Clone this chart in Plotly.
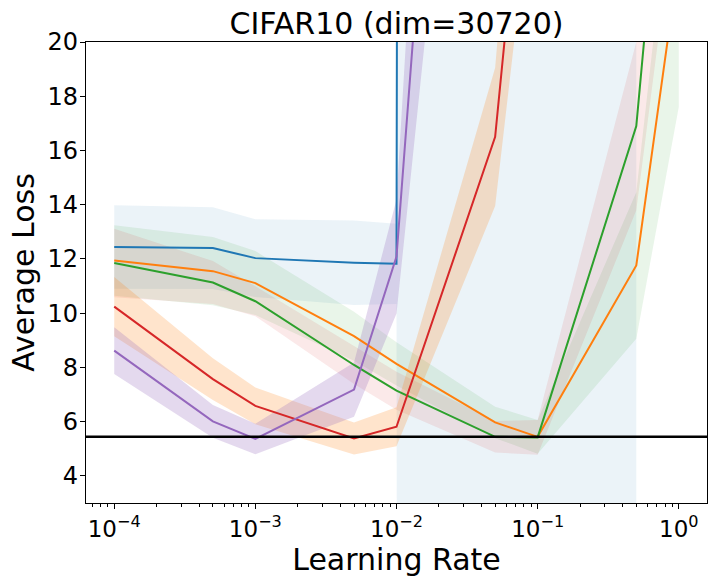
import plotly.graph_objects as go

# learning rates (x)
lr = [1e-4, 5e-4, 1e-3, 5e-3, 1e-2, 5e-2, 1e-1, 5e-1, 1.0]

# mean average loss per series (diverged runs are very large)
blue_mean = [12.44, 12.40, 12.03, 11.86, 11.82, 3200.0, 4100.0, 5000.0, None]
blue_std = [1.54, 1.51, 1.43, 1.56, 1.48, 6000.0, 8000.0, 9000.0, None]

orange_mean = [11.94, 11.55, 11.11, 9.15, 8.13, 5.97, 5.44, 11.76, 23.0]
orange_std = [1.30, 1.26, 1.18, 0.90, 0.80, 0.58, 0.62, 2.70, 5.40]

green_mean = [11.85, 11.13, 10.44, 8.09, 7.14, 5.44, 5.42, 16.9, 34.0]
green_std = [1.26, 0.79, 0.55, 0.70, 0.70, 0.58, 0.64, 3.10, 8.0]

red_mean = [10.24, 7.57, 6.58, 5.38, 5.81, 16.5, 32.5, 80.0, 150.0]
red_std = [1.09, 0.77, 0.68, 0.59, 0.72, 2.55, 5.0, 12.0, 25.0]

purple_mean = [8.62, 6.01, 5.36, 7.18, 12.09, 60.0, 120.0, 200.0, 300.0]
purple_std = [0.86, 0.60, 0.56, 1.00, 2.10, 15.0, 25.0, 40.0, 60.0]

baseline = 5.44

x_tick_vals = [1e-4, 1e-3, 1e-2, 1e-1, 1.0]
x_tick_text = ["10<sup>\u22124</sup>", "10<sup>\u22123</sup>", "10<sup>\u22122</sup>",
               "10<sup>\u22121</sup>", "10<sup>0</sup>"]
y_tick_vals = [4, 6, 8, 10, 12, 14, 16, 18, 20]

series = [
    ("#1f77b4", "rgba(31,119,180,0.09)", blue_mean, blue_std),
    ("#ff7f0e", "rgba(44,160,44,0.10)", orange_mean, orange_std),
    ("#2ca02c", "rgba(214,39,40,0.10)", green_mean, green_std),
    ("#d62728", "rgba(255,127,14,0.21)", red_mean, red_std),
    ("#9467bd", "rgba(148,103,189,0.25)", purple_mean, purple_std),
]

fig = go.Figure()

for line_color, fill_color, mean, std in series:
    pts = [(x, m, s) for x, m, s in zip(lr, mean, std) if m is not None]
    xs = [p[0] for p in pts]
    up = [p[1] + p[2] for p in pts]
    lo = [p[1] - p[2] for p in pts]
    fig.add_trace(go.Scatter(
        x=xs + xs[::-1], y=up + lo[::-1], fill="toself", fillcolor=fill_color,
        line=dict(width=0), mode="lines", hoverinfo="skip", showlegend=False))

for line_color, fill_color, mean, std in series:
    fig.add_trace(go.Scatter(
        x=lr, y=mean, mode="lines", line=dict(color=line_color, width=2),
        showlegend=False))

fig.add_hline(y=baseline, line=dict(color="black", width=2.5))

minor_vals = []
for e in range(-5, 1):
    for k in range(2, 10):
        minor_vals.append(k * 10.0 ** e)

fig.update_layout(
    width=719, height=584,
    margin=dict(l=86, r=12, t=42, b=81, autoexpand=False),
    plot_bgcolor="white", paper_bgcolor="white",
    font=dict(family="DejaVu Sans", color="black", size=23),
    title=dict(text="CIFAR10 (dim=30720)", x=0.5, xref="paper", xanchor="center",
               y=1, yref="paper", yanchor="bottom", pad=dict(b=8),
               font=dict(size=30), automargin=False),
)

fig.update_xaxes(
    type="log", range=[-4.2, 0.2], automargin=False,
    tickmode="array", tickvals=x_tick_vals, ticktext=x_tick_text,
    ticks="outside", ticklen=5, tickwidth=1, tickcolor="black",
    minor=dict(tickmode="array", tickvals=minor_vals, ticks="outside",
               ticklen=3, tickwidth=1, tickcolor="black", showgrid=False),
    showline=True, linecolor="black", linewidth=1.2, mirror=True,
    showgrid=False, zeroline=False,
    title=dict(text="Learning Rate", font=dict(size=30), standoff=2),
    tickfont=dict(size=23),
)
fig.update_yaxes(
    range=[3, 20], tickmode="array", tickvals=y_tick_vals, automargin=False,
    ticks="outside", ticklen=5, tickwidth=1, tickcolor="black",
    showline=True, linecolor="black", linewidth=1.2, mirror=True,
    showgrid=False, zeroline=False, ticklabelstandoff=-3,
    title=dict(text="Average Loss", font=dict(size=30), standoff=4),
    tickfont=dict(size=24),
)

fig.write_html(
    "out.html",
    config={"displayModeBar": False},
    post_script="document.body.style.margin='0';document.body.style.overflow='hidden';",
)
